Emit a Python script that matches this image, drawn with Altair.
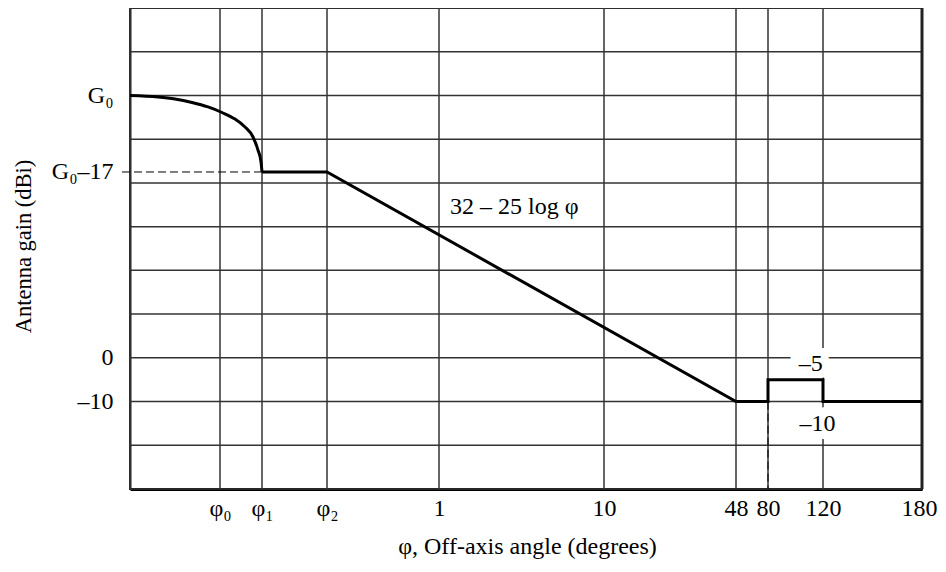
import altair as alt
import pandas as pd

# ---- data (schematic ITU-style antenna pattern) ----
# angle axis is schematic: phi0, phi1, phi2 are symbolic small angles
phi_ticks = [0.3, 0.45, 0.7, 1, 10, 48, 80, 120, 180]
phi_tick_labels = ["φ₀", "φ₁", "φ₂", "1", "10", "48", "80", "120", "180"]
gain_ticks = [60, 42.5, 0, -10]
gain_tick_labels = ["G₀", "G₀–17", "0", "–10"]
gain_grid = [-30, -20, -10, 0, 10, 20, 30, 40, 50, 60, 70, 80]
phi_grid = [0, 0.3, 0.45, 0.7, 1, 10, 48, 80, 120, 180]

# main-lobe curve (from boresight down to phi1)
curve_phi = [0, 0.0933, 0.15, 0.2067, 0.26, 0.3071, 0.3536, 0.3893, 0.4179, 0.4357, 0.4464, 0.45]
curve_gain = [60, 59.66, 59.2, 58.4, 57.37, 56.1, 54.6, 52.8, 50.5, 47.5, 44.8, 42.5]

# straight-segment envelope from phi1 to 180 degrees
step_phi = [0.45, 0.7, 48, 80, 80, 120, 120, 180]
step_gain = [42.5, 42.5, -10, -10, -5, -5, -10, -10]

formula_text = ["32 – 25 log φ"]
formula_phi = [1.6]
formula_gain = [34.5]

level_text = ["–5", "–10"]
level_phi = [111, 116]
level_gain = [-1.4, -15.1]

# ---- schematic (piecewise) angle scale ----
phi_domain = [0, 0.3, 0.45, 0.7, 1, 10, 48, 80, 120, 180]
phi_range = [0, 90, 132, 197, 309, 474, 606, 638, 693, 792]

FONT = "Liberation Serif"
FS = 24

xscale = alt.Scale(type="linear", domain=phi_domain, range=phi_range, nice=False, zero=False)
yscale = alt.Scale(type="linear", domain=[-30, 80], nice=False, zero=False)


def lab_expr(vals, labs):
    expr = "''"
    for v, l in reversed(list(zip(vals, labs))):
        expr = f"abs(datum.value - {v}) < 1e-6 ? '{l}' : ({expr})"
    return expr


x_axis = alt.Axis(
    values=phi_ticks, labelExpr=lab_expr(phi_ticks, phi_tick_labels),
    grid=False, ticks=False, domain=True, domainColor="black", domainWidth=3,
    labelFont=FONT, labelFontSize=FS, labelColor="black", labelPadding=7,
    labelOverlap=False, labelFlush=True, labelFlushOffset=15, labelBound=False,
    title="φ, Off-axis angle (degrees)", titleFont=FONT, titleFontSize=FS,
    titleFontWeight="normal", titleColor="black",
    titleX=397, titleY=64, titleBaseline="alphabetic", titleAlign="center",
)
y_axis = alt.Axis(
    values=gain_ticks, labelExpr=lab_expr(gain_ticks, gain_tick_labels),
    grid=False, ticks=False, domain=True, domainColor="#222", domainWidth=2,
    labelFont=FONT, labelFontSize=FS, labelColor="black", labelPadding=17,
    labelOverlap=False, labelFlush=False, labelBound=False,
    title="Antenna gain (dBi)", titleFont=FONT, titleFontSize=22.5,
    titleFontWeight="normal", titleColor="black",
    titleX=-107, titleY=238, titleAngle=270, titleAlign="center", titleBaseline="middle",
)


def X(field="phi"):
    return alt.X(f"{field}:Q", scale=xscale, axis=x_axis)


def Y(field="gain"):
    return alt.Y(f"{field}:Q", scale=yscale, axis=y_axis)


grid_x_df = pd.DataFrame({"phi": phi_grid})
grid_y_df = pd.DataFrame({"gain": gain_grid})
curve_df = pd.DataFrame({"phi": curve_phi, "gain": curve_gain})
step_df = pd.DataFrame({"phi": step_phi, "gain": step_gain, "order": list(range(len(step_phi)))})
formula_df = pd.DataFrame({"t": formula_text, "phi": formula_phi, "gain": formula_gain})
level_df = pd.DataFrame({"t": level_text, "phi": level_phi, "gain": level_gain})
hdash_df = pd.DataFrame({"phi": [0.45], "gain": [42.5]})
vdash_df = pd.DataFrame({"phi": [80], "gain": [-10], "gain2": [-30]})
frame_df = pd.DataFrame({"phi": [180]})

grid_x = alt.Chart(grid_x_df).mark_rule(color="#333", strokeWidth=1.5).encode(x=X())
grid_y = alt.Chart(grid_y_df).mark_rule(color="#333", strokeWidth=1.5).encode(y=Y())
frame = alt.Chart(frame_df).mark_rule(color="#222", strokeWidth=3).encode(x=X())
hdash = alt.Chart(hdash_df).mark_rule(color="black", strokeWidth=1, strokeDash=[8, 4]).encode(
    x=X(), x2=alt.value(-8), y=Y()
)
vdash = alt.Chart(vdash_df).mark_rule(color="black", strokeWidth=1, strokeDash=[8, 4]).encode(
    x=X(), y=Y(), y2="gain2:Q"
)
halo = alt.Chart(level_df).mark_text(
    font=FONT, fontSize=FS, fill="white", stroke="white", strokeWidth=16,
    align="center", baseline="middle"
).encode(x=X(), y=Y(), text="t:N")
curve = alt.Chart(curve_df).mark_line(
    color="black", strokeWidth=3, interpolate="monotone"
).encode(x=X(), y=Y())
step = alt.Chart(step_df).mark_line(color="black", strokeWidth=3, strokeJoin="miter").encode(
    x=X(), y=Y(), order="order:Q"
)
levels = alt.Chart(level_df).mark_text(
    font=FONT, fontSize=FS, color="black", align="center", baseline="middle"
).encode(x=X(), y=Y(), text="t:N")
formula = alt.Chart(formula_df).mark_text(
    font=FONT, fontSize=FS, color="black", align="left", baseline="middle"
).encode(x=X(), y=Y(), text="t:N")

chart = alt.layer(grid_x, grid_y, frame, hdash, vdash, halo, curve, step, levels, formula).properties(
    width=792, height=481,
    autosize=alt.AutoSizeParams(type="none"),
    padding={"left": 122, "top": 0, "right": 16, "bottom": 76},
).configure_view(stroke="#222", strokeWidth=2)

chart.save("out.html", embed_options={"renderer": "svg", "actions": False})
